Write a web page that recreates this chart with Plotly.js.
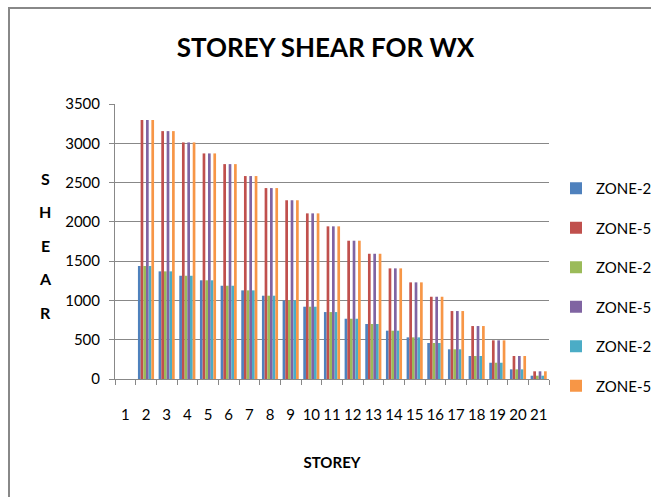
<!DOCTYPE html>
<html>
<head>
<meta charset="utf-8">
<script src="https://cdn.plot.ly/plotly-3.0.1.min.js"></script>
<style>
  html, body { margin: 0; padding: 0; background: #fff; }
  #frame {
    position: absolute; left: 8px; top: 7px; width: 660px; height: 500px;
    border-top: 2px solid #888; border-left: 2px solid #888;
  }
  #chart { position: absolute; left: 0; top: 0; width: 651px; height: 497px; }
</style>
</head>
<body>
<div id="frame"></div>
<div id="chart"></div>
<script>
const storeys = ['1','2','3','4','5','6','7','8','9','10','11','12','13','14','15','16','17','18','19','20','21'];

// shear values (storey 1 has no value)
const zone2Shear = [null, 1438, 1370, 1314, 1256, 1187, 1128, 1060, 1001, 920, 852, 767, 700, 615, 530, 458, 378, 293, 207, 123, 42];
const zone5Shear = [null, 3295, 3155, 3011, 2871, 2735, 2583, 2430, 2275, 2108, 1943, 1760, 1594, 1408, 1230, 1047, 865, 674, 492, 293, 98];

const seriesNames = ['ZONE-2', 'ZONE-5', 'ZONE-2', 'ZONE-5', 'ZONE-2', 'ZONE-5'];
const seriesValues = [zone2Shear, zone5Shear, zone2Shear, zone5Shear, zone2Shear, zone5Shear];
const seriesColors = ['#4F81BD', '#C0504D', '#9BBB59', '#8064A2', '#4BACC6', '#F79646'];

const yTitle = 'SHEAR';

const font = 'Lato, "Open Sans", sans-serif';

const traces = seriesNames.map((name, i) => ({
    x: storeys,
    y: seriesValues[i],
    name: name,
    type: 'bar',
    legendgroup: 'g' + i,
    marker: { color: seriesColors[i], line: { width: 0 } }
}));

// vertical axis title, one letter per line like the original
const letterAnnotations = yTitle.split('').map((ch, i) => ({
    text: '<b>' + ch + '</b>',
    xref: 'paper', yref: 'paper',
    x: (45 - 115) / 434,
    y: (379 - (178 + i * 33.5)) / 275,
    xanchor: 'center', yanchor: 'middle',
    showarrow: false,
    font: { family: font, size: 16, color: '#000' }
}));

const layout = {
    width: 651,
    height: 497,
    barmode: 'group',
    bargap: 0.22,
    bargroupgap: 0,
    title: {
        text: '<b>STOREY SHEAR FOR WX</b>',
        font: { family: font, size: 26, color: '#000' },
        x: 0.5, xanchor: 'center',
        y: 1 - 48 / 497, yref: 'container', yanchor: 'middle'
    },
    xaxis: {
        type: 'category',
        title: { text: '<b>STOREY</b>', font: { family: font, size: 15, color: '#000' }, standoff: 35 },
        tickfont: { family: font, size: 15, color: '#000' },
        dtick: 1,
        ticklabelstandoff: 22,
        showline: true, linecolor: '#888', linewidth: 1,
        ticks: 'outside', tickson: 'boundaries', ticklen: 5, tickcolor: '#888',
        showgrid: false, zeroline: false,
        tickangle: 0
    },
    yaxis: {
        range: [0, 3500],
        dtick: 500,
        tickfont: { family: font, size: 15, color: '#000' },
        ticklabelstandoff: 6,
        showline: true, linecolor: '#888', linewidth: 1,
        ticks: 'outside', ticklen: 5, tickcolor: '#888',
        showgrid: true, gridcolor: '#888', gridwidth: 1,
        zeroline: false
    },
    annotations: letterAnnotations,
    showlegend: true,
    legend: {
        xref: 'container', yref: 'container',
        x: 556 / 651, xanchor: 'left',
        y: 1 - 172 / 497, yanchor: 'top',
        tracegroupgap: 17,
        itemwidth: 30,
        font: { family: font, size: 15, color: '#000' },
        bgcolor: 'rgba(0,0,0,0)'
    },
    margin: { l: 115, r: 102, t: 104, b: 118, autoexpand: false },
    paper_bgcolor: 'rgba(0,0,0,0)',
    plot_bgcolor: 'rgba(0,0,0,0)'
};

Plotly.newPlot('chart', traces, layout, { displayModeBar: false, staticPlot: true });
</script>
</body>
</html>
